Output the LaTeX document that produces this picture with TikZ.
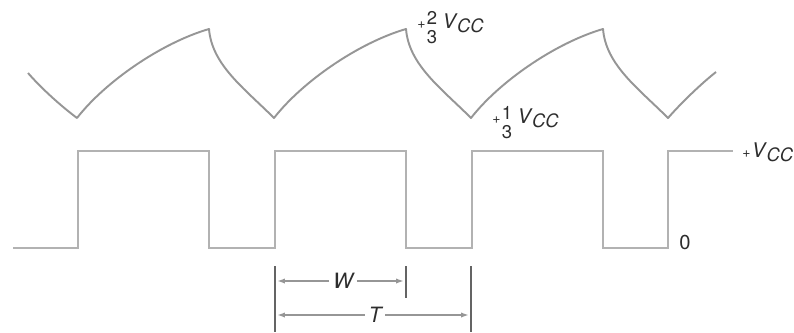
\documentclass[tikz,border=0pt]{standalone}
\usepackage{fontspec}
\setmainfont{TeX Gyre Heros}
\usetikzlibrary{arrows.meta}

\definecolor{wavegray}{RGB}{150,150,150}
\definecolor{sqgray}{RGB}{178,178,178}
\definecolor{bargray}{RGB}{100,100,100}
\definecolor{txtgray}{RGB}{45,45,45}

\newcommand{\vcc}{\textit{V}\kern-0.03em\raisebox{-2.4pt}{\fontsize{10.5}{11}\selectfont\textit{CC}}}
\newcommand{\plussign}{{\fontsize{8}{9}\selectfont+}}
\newcommand{\thirds}[1]{\raisebox{2pt}{\fontsize{10.5}{11}\selectfont\vtop{\baselineskip=10.6pt\hbox{#1}\hbox{3}}}}

\begin{document}
\begin{tikzpicture}[x=0.02cm, y=-0.02cm,
    rcwave/.style={draw=wavegray, line width=1.1pt, line join=round},
    sqwave/.style={draw=sqgray, line width=1.1pt},
    dimbar/.style={draw=bargray, line width=1.4pt},
    dimarrow/.style={draw=wavegray, line width=0.9pt, -{Latex[length=4.5pt,width=3pt]}},
    lbl/.style={text=txtgray, inner sep=0pt, font=\fontsize{11.5}{13}\selectfont},
    dimlbl/.style={text=txtgray, inner sep=2pt, font=\fontsize{12}{13}\selectfont\itshape}]
  \useasboundingbox (0,0) rectangle (794,332);

  % capacitor voltage
  \draw[rcwave] (28,73) .. controls +(14,16) and +(-16,-12) .. (77,118)
    foreach \x in {77,274,471} {
      .. controls +(28,-36) and +(-48,14) .. ({\x+132},29)
      .. controls +(3,36) and +(-30,-30) .. ({\x+197},118)
    }
    .. controls +(14,-16) and +(-14,11) .. (716,72);

  % output
  \draw[sqwave] (13,248)
    foreach \x in {78,275,472} {
      -- (\x,248) -- (\x,151) -- ({\x+131},151) -- ({\x+131},248)
    }
    -- (668,248) -- (668,151) -- (733,151);

  % levels
  \node[lbl, anchor=base west] (twothird) at (417,28) {\plussign\kern0.8pt\thirds{2}\kern3pt\vcc};
  \node[lbl, anchor=base west] (onethird) at (492,123) {\plussign\kern0.8pt\thirds{1}\kern3pt\vcc};
  \node[lbl, anchor=base west] (vcclvl) at (742,157) {\plussign\kern0.8pt\vcc};
  \node[lbl] (zerolvl) at (685,242) {0};

  % W and T
  \coordinate (tstart) at (275,266);
  \coordinate (tstartb) at (275,332);
  \coordinate (wend) at (406,266);
  \coordinate (wendb) at (406,298);
  \coordinate (tend) at (471,266);
  \coordinate (tendb) at (471,332);
  \draw[dimbar] (tstart) -- (tstartb);
  \draw[dimbar] (wend) -- (wendb);
  \draw[dimbar] (tend) -- (tendb);

  \node[dimlbl] (wlab) at (343,281) {W};
  \node[dimlbl] (tlab) at (375,315) {T};
  \coordinate (wl) at (277,281);
  \coordinate (wr) at (404,281);
  \coordinate (tl) at (277,315);
  \coordinate (tr) at (469,315);
  \draw[dimarrow] (wlab.west) -- (wl);
  \draw[dimarrow] (wlab.east) -- (wr);
  \draw[dimarrow] (tlab.west) -- (tl);
  \draw[dimarrow] (tlab.east) -- (tr);
\end{tikzpicture}
\end{document}
